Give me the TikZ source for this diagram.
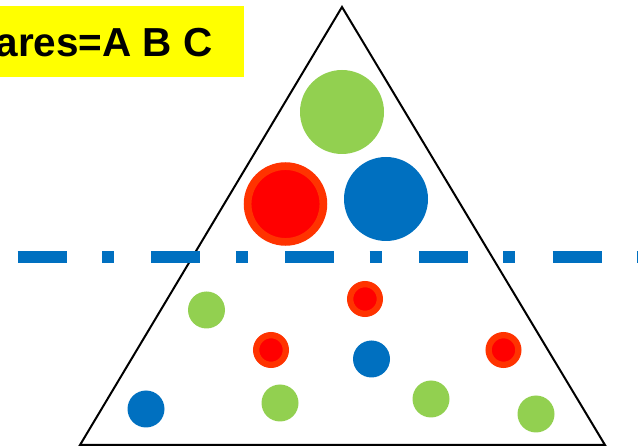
\documentclass[tikz,border=0pt]{standalone}
\usepackage{fontspec}
\setmainfont{Liberation Sans}
\definecolor{cgreen}{HTML}{92D050}
\definecolor{cblue}{HTML}{0070C0}
\definecolor{cred}{HTML}{FF0000}
\definecolor{corange}{HTML}{FF3300}
\definecolor{cyellow}{HTML}{FFFF00}
\begin{document}
\begin{tikzpicture}[x=1pt,y=-1pt,
  ball/.style={circle,inner sep=0pt,outer sep=0pt},
  gball/.style={ball,fill=cgreen,minimum size=#1},
  bball/.style={ball,fill=cblue,minimum size=#1},
  rball/.style={ball,fill=cred,draw=corange,line width=#1},
]
\useasboundingbox (0,0) rectangle (638,446);
\clip (0,0) rectangle (638,446);
% yellow label
\fill[cyellow] (-5,6) rectangle (244,77);
\node[anchor=base east,inner sep=0pt,font=\bfseries\fontsize{40.5}{40.5}\selectfont] (lbl) at (213,57) {ares=A B C};
% triangle
\coordinate (apex) at (342,7);
\coordinate (bl) at (80,445);
\coordinate (br) at (605,445);
\draw[line width=2pt,line join=miter] (apex) -- (bl) -- (br) -- cycle;
% big balls
\node[gball=84pt] (g1) at (342,112) {};
\node[rball=7.7pt,minimum size=75.8pt] (r1) at (285.5,204) {};
\node[bball=84pt] (b1) at (386,199) {};
% dash-dot line
\coordinate (ls) at (17.5,257);
\coordinate (le) at (660,257);
\draw[cblue,line width=12pt,line cap=butt,dash pattern=on 49pt off 35.5pt on 12pt off 37.25pt] (ls) -- (le);
% small balls
\node[gball=37pt] (g2) at (206.5,310) {};
\node[rball=6.3pt,minimum size=29.7pt] (r2) at (365,299) {};
\node[rball=6.3pt,minimum size=29.7pt] (r3) at (271,350) {};
\node[bball=37pt] (b2) at (371.5,359) {};
\node[rball=6.3pt,minimum size=29.7pt] (r4) at (503.5,350) {};
\node[bball=37pt] (b3) at (146,409) {};
\node[gball=37pt] (g3) at (280,403) {};
\node[gball=37pt] (g4) at (431,399) {};
\node[gball=37pt] (g5) at (536,414) {};
\end{tikzpicture}
\end{document}
